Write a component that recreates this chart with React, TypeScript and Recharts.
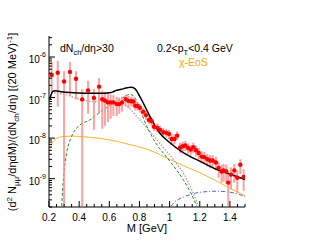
import * as React from "react";
import { ComposedChart, ErrorBar, Line, Scatter, XAxis, YAxis } from "recharts";

// measured dimuon spectrum (red points)
const massPts = [
  0.218, 0.258, 0.3, 0.339, 0.379, 0.42, 0.459, 0.498, 0.532, 0.553, 0.571, 0.591, 0.609, 0.627, 0.649,
  0.666, 0.684, 0.709, 0.727, 0.745, 0.76, 0.772, 0.787, 0.803, 0.825, 0.843, 0.863, 0.881, 0.896, 0.918,
  0.936, 0.958, 0.978, 0.996, 1.014, 1.032, 1.05, 1.069, 1.087, 1.104, 1.123, 1.14, 1.157, 1.175, 1.193,
  1.212, 1.23, 1.25, 1.268, 1.286, 1.307, 1.325, 1.345, 1.358, 1.376, 1.389, 1.407, 1.429, 1.449, 1.469, 1.491,
];
const yieldPts = [
  3.6e-7, 4.1e-7, 2.5e-7, 4.3e-7, 2.9e-7, 9e-8, 1.5e-7, 9.8e-8, 1.86e-7, 9.1e-8, 8.5e-8, 7.6e-8, 7.6e-8, 7.6e-8, 6.9e-8,
  6.9e-8, 7.6e-8, 9.1e-8, 8.3e-8, 8.1e-8, 8e-8, 6.3e-8, 6.2e-8, 5.6e-8, 4.5e-8, 3.7e-8, 2.8e-8, 2.6e-8, 1.9e-8, 1.8e-8,
  1.6e-8, 1.4e-8, 1.35e-8, 1.26e-8, 9.5e-9, 9.5e-9, 1.15e-8, 5.8e-9, 6.3e-9, 6.6e-9, 5.7e-9, 5.2e-9, 6e-9, 5e-9, 4.3e-9,
  3.5e-9, 3.4e-9, 3e-9, 2.8e-9, 2.8e-9, 2.5e-9, 1.85e-9, 1.5e-9, 1.6e-9, 1.5e-9, 8e-10, 1.26e-9, 1.6e-9, 1.05e-9, 2.2e-9, 1.1e-9,
];
const yieldLow = [
  1.3e-7, 6e-8, 2.1e-10, 1.1e-7, 9e-8, 2.1e-10, 4e-8, 1.6e-8, 4e-8, 1.7e-8, 2e-8, 2.5e-8, 3e-8, 3.5e-8, 3.5e-8,
  4e-8, 4.5e-8, 6e-8, 5.5e-8, 6e-8, 6e-8, 4.8e-8, 4.8e-8, 4.3e-8, 3.5e-8, 2.8e-8, 2.2e-8, 2e-8, 1.5e-8, 1.4e-8,
  1.25e-8, 1.1e-8, 1.05e-8, 9.5e-9, 7e-9, 7e-9, 9e-9, 4.3e-9, 4.6e-9, 4.8e-9, 4.1e-9, 3.7e-9, 4.2e-9, 3.5e-9, 3e-9,
  2.4e-9, 2.3e-9, 2e-9, 1.8e-9, 1.8e-9, 1.6e-9, 1.05e-9, 8e-10, 8.5e-10, 7.5e-10, 2.1e-10, 5.5e-10, 8e-10, 4.5e-10, 1.3e-9, 5e-10,
];
const yieldHigh = [
  7.5e-7, 8e-7, 4.5e-7, 7.5e-7, 4.5e-7, 1.6e-7, 2.6e-7, 1.6e-7, 3e-7, 1.5e-7, 1.4e-7, 1.3e-7, 1.2e-7, 1.15e-7, 1.05e-7,
  1e-7, 1.05e-7, 1.2e-7, 1.1e-7, 1.05e-7, 1e-7, 8e-8, 7.8e-8, 7e-8, 5.6e-8, 4.7e-8, 3.5e-8, 3.3e-8, 2.4e-8, 2.3e-8,
  2e-8, 1.8e-8, 1.7e-8, 1.6e-8, 1.25e-8, 1.25e-8, 1.45e-8, 7.7e-9, 8.2e-9, 8.5e-9, 7.4e-9, 6.8e-9, 7.8e-9, 6.5e-9, 5.7e-9,
  4.7e-9, 4.6e-9, 4.1e-9, 3.8e-9, 3.8e-9, 3.5e-9, 2.6e-9, 2.2e-9, 2.3e-9, 2.2e-9, 1.3e-9, 1.9e-9, 2.3e-9, 1.6e-9, 3e-9, 1.7e-9,
];

// model curves
const totalX = [0.205, 0.215, 0.225, 0.24, 0.28, 0.34, 0.43, 0.54, 0.6, 0.625, 0.64, 0.68, 0.72, 0.745, 0.765, 0.78, 0.8, 0.82, 0.87, 0.93, 1.0, 1.09, 1.2, 1.31, 1.4, 1.5];
const totalY = [9e-8, 1.2e-7, 1.42e-7, 1.48e-7, 1.4e-7, 1.33e-7, 1.28e-7, 1.28e-7, 1.32e-7, 1.38e-7, 1.48e-7, 1.6e-7, 1.75e-7, 1.8e-7, 1.7e-7, 1.5e-7, 1.1e-7, 8e-8, 3.4e-8, 1.4e-8, 7.8e-9, 4.4e-9, 2.7e-9, 1.7e-9, 1.3e-9, 9.5e-10];

const eosX = [0.21, 0.22, 0.24, 0.27, 0.3, 0.35, 0.43, 0.55, 0.65, 0.75, 0.87, 1.0, 1.09, 1.2, 1.31, 1.4, 1.5];
const eosY = [5.5e-9, 7.5e-9, 9.3e-9, 1.05e-8, 1.1e-8, 1.12e-8, 1.08e-8, 9.7e-9, 8.3e-9, 6.7e-9, 5e-9, 3e-9, 2.1e-9, 1.4e-9, 8.8e-10, 5.8e-10, 3.8e-10];

const rhoX = [0.284, 0.29, 0.3, 0.317, 0.35, 0.405, 0.47, 0.56, 0.65, 0.7, 0.735, 0.76, 0.78, 0.805, 0.85, 0.87, 0.92, 0.96, 1.02, 1.09, 1.14, 1.18];
const rhoY = [2.1e-10, 5e-10, 1.5e-9, 4.3e-9, 1.1e-8, 2.1e-8, 2.8e-8, 5e-8, 8e-8, 1.05e-7, 1.2e-7, 1.1e-7, 8.5e-8, 5e-8, 1.9e-8, 1.35e-8, 6.5e-9, 4.2e-9, 2.2e-9, 9.5e-10, 4.5e-10, 2.1e-10];

const cocktailX = [0.215, 0.24, 0.3, 0.43, 0.54, 0.65, 0.72, 0.78, 0.87, 0.96, 1.03, 1.1, 1.15, 1.19];
const cocktailY = [1.4e-7, 1.3e-7, 1.2e-7, 8.5e-8, 7.8e-8, 7.3e-8, 6e-8, 3.5e-8, 1.45e-8, 5.8e-9, 2.8e-9, 1.2e-9, 5e-10, 2.1e-10];

const qgpX = [1.01, 1.03, 1.06, 1.09, 1.14, 1.2, 1.31, 1.42, 1.5];
const qgpY = [2.1e-10, 2.6e-10, 3.1e-10, 3.5e-10, 4.1e-10, 4.6e-10, 4.9e-10, 4.5e-10, 3.6e-10];

// axes
const xMajor = [0.2, 0.4, 0.6, 0.8, 1.0, 1.2, 1.4];
const yDecades = [-10, -9, -8, -7, -6];
const yDomain: [number, number] = [2e-10, 3.3e-6];

const FONT = "'Liberation Sans', Arial, Helvetica, sans-serif";

const xTicks: number[] = [];
for (let i = 0; i <= 26; i++) xTicks.push(Math.round((0.2 + i * 0.05) * 1000) / 1000);
const yTicks: number[] = [];
yDecades.forEach((e) => {
  for (let m = 1; m <= 9; m++) {
    const v = m * Math.pow(10, e);
    if (v >= yDomain[0] && v <= yDomain[1]) yTicks.push(v);
  }
});

const isMajorX = (v: number) => xMajor.some((m) => Math.abs(m - v) < 1e-6);
const isMajorY = (v: number) => Math.abs(Math.log10(v) - Math.round(Math.log10(v))) < 1e-6;

const toPts = (xs: number[], ys: number[]) => xs.map((x, i) => ({ x, y: ys[i] }));

const points = massPts.map((x, i) => ({
  x,
  y: yieldPts[i],
  err: [yieldPts[i] - yieldLow[i], yieldHigh[i] - yieldPts[i]],
}));

function BottomTick(props: any) {
  const { x, y, payload } = props;
  const major = isMajorX(payload.value);
  const label = payload.value === 1 ? "1" : String(payload.value);
  return (
    <g>
      <line x1={x} y1={y} x2={x} y2={y - (major ? 6 : 3)} stroke="#000" />
      {major && (
        <text x={x} y={y + 14} textAnchor="middle" fontSize={10} fontFamily={FONT} fill="#000">
          {label}
        </text>
      )}
    </g>
  );
}

function TopTick(props: any) {
  const { x, y, payload } = props;
  const major = isMajorX(payload.value);
  return <line x1={x} y1={y} x2={x} y2={y + (major ? 6 : 3)} stroke="#000" />;
}

function LeftTick(props: any) {
  const { x, y, payload } = props;
  const major = isMajorY(payload.value);
  const exp = Math.round(Math.log10(payload.value));
  return (
    <g>
      <line x1={x} y1={y} x2={x + (major ? 6 : 3)} y2={y} stroke="#000" />
      {major && (
        <text x={x - 3} y={y + 6} textAnchor="end" fontSize={10} fontFamily={FONT} fill="#000">
          10
          <tspan dy={-6} fontSize={7}>
            {exp}
          </tspan>
        </text>
      )}
    </g>
  );
}

function RightTick(props: any) {
  const { x, y, payload } = props;
  const major = isMajorY(payload.value);
  return <line x1={x} y1={y} x2={x - (major ? 6 : 3)} y2={y} stroke="#000" />;
}

export default function App(): React.JSX.Element {
  return (
    <div style={{ position: "fixed", left: 0, top: 0, width: 317, height: 245, background: "#fff" }}>
      <ComposedChart width={317} height={245} margin={{ top: 36, right: 72, left: 0, bottom: 0 }}>
        <XAxis
          xAxisId="b"
          dataKey="x"
          type="number"
          domain={[0.2, 1.5]}
          allowDataOverflow
          ticks={xTicks}
          interval={0}
          tickSize={0}
          tickMargin={0}
          height={38}
          axisLine={{ stroke: "#000" }}
          tickLine={false}
          tick={<BottomTick />}
        />
        <XAxis
          xAxisId="t"
          orientation="top"
          type="number"
          domain={[0.2, 1.5]}
          allowDataOverflow
          ticks={xTicks}
          interval={0}
          tickSize={0}
          tickMargin={0}
          height={0}
          axisLine={{ stroke: "#000" }}
          tickLine={false}
          tick={<TopTick />}
        />
        <YAxis
          yAxisId="l"
          dataKey="y"
          type="number"
          scale="log"
          domain={yDomain}
          allowDataOverflow
          ticks={yTicks}
          interval={0}
          tickSize={0}
          tickMargin={0}
          width={49}
          axisLine={{ stroke: "#000" }}
          tickLine={false}
          tick={<LeftTick />}
        />
        <YAxis
          yAxisId="r"
          orientation="right"
          type="number"
          scale="log"
          domain={yDomain}
          allowDataOverflow
          ticks={yTicks}
          interval={0}
          tickSize={0}
          tickMargin={0}
          width={0}
          axisLine={{ stroke: "#000" }}
          tickLine={false}
          tick={<RightTick />}
        />
        <Line xAxisId="b" yAxisId="l" data={toPts(eosX, eosY)} dataKey="y" type="monotone" stroke="#ffb22e" strokeWidth={1} dot={false} isAnimationActive={false} />
        <Line xAxisId="b" yAxisId="l" data={toPts(cocktailX, cocktailY)} dataKey="y" type="monotone" stroke="#b99090" strokeWidth={1.2} strokeDasharray="1.5 1.5" dot={false} isAnimationActive={false} />
        <Line xAxisId="b" yAxisId="l" data={toPts(rhoX, rhoY)} dataKey="y" type="monotone" stroke="#1f8f1f" strokeWidth={1} strokeDasharray="3 2" dot={false} isAnimationActive={false} />
        <Line xAxisId="b" yAxisId="l" data={toPts(qgpX, qgpY)} dataKey="y" type="monotone" stroke="#5a5aff" strokeWidth={1} strokeDasharray="4 2 1 2" dot={false} isAnimationActive={false} />
        <Scatter
          xAxisId="b"
          yAxisId="l"
          data={points}
          dataKey="y"
          isAnimationActive={false}
          shape={(p: any) => <circle cx={p.cx} cy={p.cy} r={2.2} fill="#ff0000" />}
        >
          <ErrorBar dataKey="err" direction="y" width={0} stroke="#ff8a8a" strokeOpacity={0.8} strokeWidth={2} isAnimationActive={false} />
        </Scatter>
        <Line xAxisId="b" yAxisId="l" data={toPts(totalX, totalY)} dataKey="y" type="monotone" stroke="#000" strokeWidth={1.5} dot={false} isAnimationActive={false} />
      </ComposedChart>
      <svg width={317} height={245} style={{ position: "absolute", left: 0, top: 0, pointerEvents: "none" }} fontFamily={FONT}>
        <text x={60} y={52} fontSize={10.5} fill="#000">
          dN<tspan dy={2.5} fontSize={7.5}>ch</tspan>
          <tspan dy={-2.5}>/dη&gt;30</tspan>
        </text>
        <text x={157} y={52} fontSize={10.5} fill="#000">
          0.2&lt;p<tspan dy={2.5} fontSize={7.5}>T</tspan>
          <tspan dy={-2.5}>&lt;0.4 GeV</tspan>
        </text>
        <text x={179} y={66} fontSize={10.5} fill="#ffa500">
          χ-EoS
        </text>
        <text x={147} y={232} fontSize={11} textAnchor="middle" fill="#000">
          M [GeV]
        </text>
        <text x={16} y={122} fontSize={11} textAnchor="middle" fill="#000" transform="rotate(-90 16 122)">
          (d<tspan dy={-4} fontSize={8}>2</tspan>
          <tspan dy={4}> N</tspan>
          <tspan dy={2.5} fontSize={8}>μμ</tspan>
          <tspan dy={-2.5}>/dηdM)/(dN</tspan>
          <tspan dy={2.5} fontSize={8}>ch</tspan>
          <tspan dy={-2.5}>/dη) [(20 MeV)</tspan>
          <tspan dy={-4} fontSize={8}>-1</tspan>
          <tspan dy={4}>]</tspan>
        </text>
      </svg>
    </div>
  );
}
